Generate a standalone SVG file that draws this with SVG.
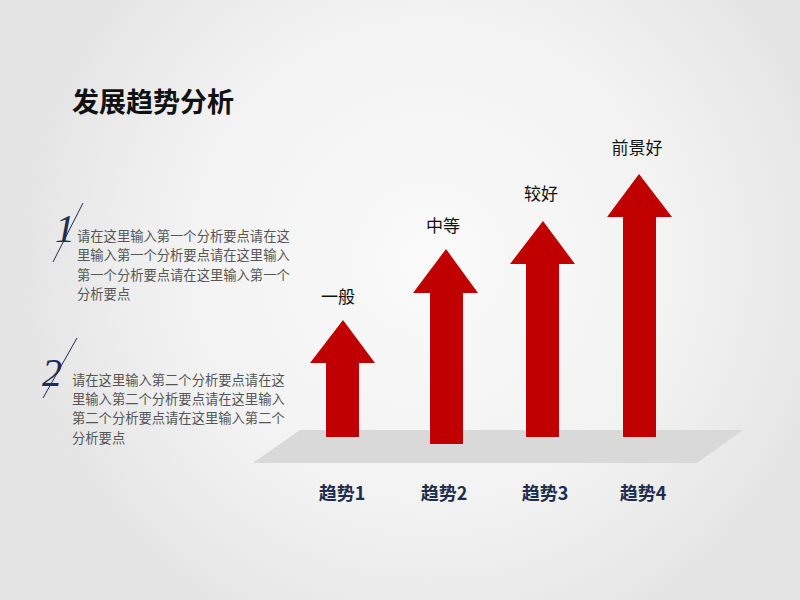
<svg xmlns="http://www.w3.org/2000/svg" width="800" height="600" viewBox="0 0 800 600">
<defs>
<radialGradient id="bg" cx="430" cy="260" r="420" gradientUnits="userSpaceOnUse">
<stop offset="0" stop-color="#fafafa"/><stop offset="0.6" stop-color="#f2f2f2"/><stop offset="1" stop-color="#e4e4e4"/>
</radialGradient>
<style>
.arrow{fill:#c00000}
.val{font-family:"Noto Sans CJK SC",sans-serif;font-size:17px;fill:#111;text-anchor:middle}
.cat{font-family:"Noto Sans CJK SC",sans-serif;font-size:18px;font-weight:bold;fill:#1f2d4f;text-anchor:middle}
.body{font-family:"Noto Sans CJK SC",sans-serif;font-size:13.3px;fill:#555}
.num{font-family:"Liberation Serif",serif;font-style:italic;font-size:40px;fill:#1f2d4f}
.sl{stroke:#1f2d4f;stroke-width:1}
</style>
</defs>
<rect width="800" height="600" fill="url(#bg)"/>
<text x="72" y="112" font-family="Noto Sans CJK SC,sans-serif" font-size="27" font-weight="bold" fill="#111">发展趋势分析</text>
<g id="point1">
<text class="num" x="55" y="242">1</text>
<line class="sl" x1="83" y1="203" x2="53" y2="262"/>
<text class="body"><tspan x="77" y="241">请在这里输入第一个分析要点请在这</tspan><tspan x="77" y="260">里输入第一个分析要点请在这里输入</tspan><tspan x="77" y="280">第一个分析要点请在这里输入第一个</tspan><tspan x="77" y="299">分析要点</tspan></text>
</g>
<g id="point2">
<text class="num" x="42" y="386">2</text>
<line class="sl" x1="77" y1="338" x2="43" y2="398"/>
<text class="body"><tspan x="72" y="385">请在这里输入第二个分析要点请在这</tspan><tspan x="72" y="404">里输入第二个分析要点请在这里输入</tspan><tspan x="72" y="423">第二个分析要点请在这里输入第二个</tspan><tspan x="72" y="443">分析要点</tspan></text>
</g>
<g id="platform"><polygon points="300,430 743,430 697,463 253,463" fill="#d9d9d9"/></g>
<g id="trend1">
<polygon class="arrow" points="343,320 375,363 359,363 359,437 326,437 326,363 310,363"/>
<text class="val" x="338" y="303">一般</text><text class="cat" x="342" y="500">趋势1</text>
</g>
<g id="trend2">
<polygon class="arrow" points="446,249 478,293 463,293 463,444 430,444 430,293 413,293"/>
<text class="val" x="443" y="232">中等</text><text class="cat" x="444" y="500">趋势2</text>
</g>
<g id="trend3">
<polygon class="arrow" points="543,221 575,264 559,264 559,437 526,437 526,264 510,264"/>
<text class="val" x="541" y="200">较好</text><text class="cat" x="545" y="500">趋势3</text>
</g>
<g id="trend4">
<polygon class="arrow" points="639,174 672,217 656,217 656,437 623,437 623,217 607,217"/>
<text class="val" x="637" y="154">前景好</text><text class="cat" x="643" y="500">趋势4</text>
</g>
<g id="connectors"/>
</svg>
